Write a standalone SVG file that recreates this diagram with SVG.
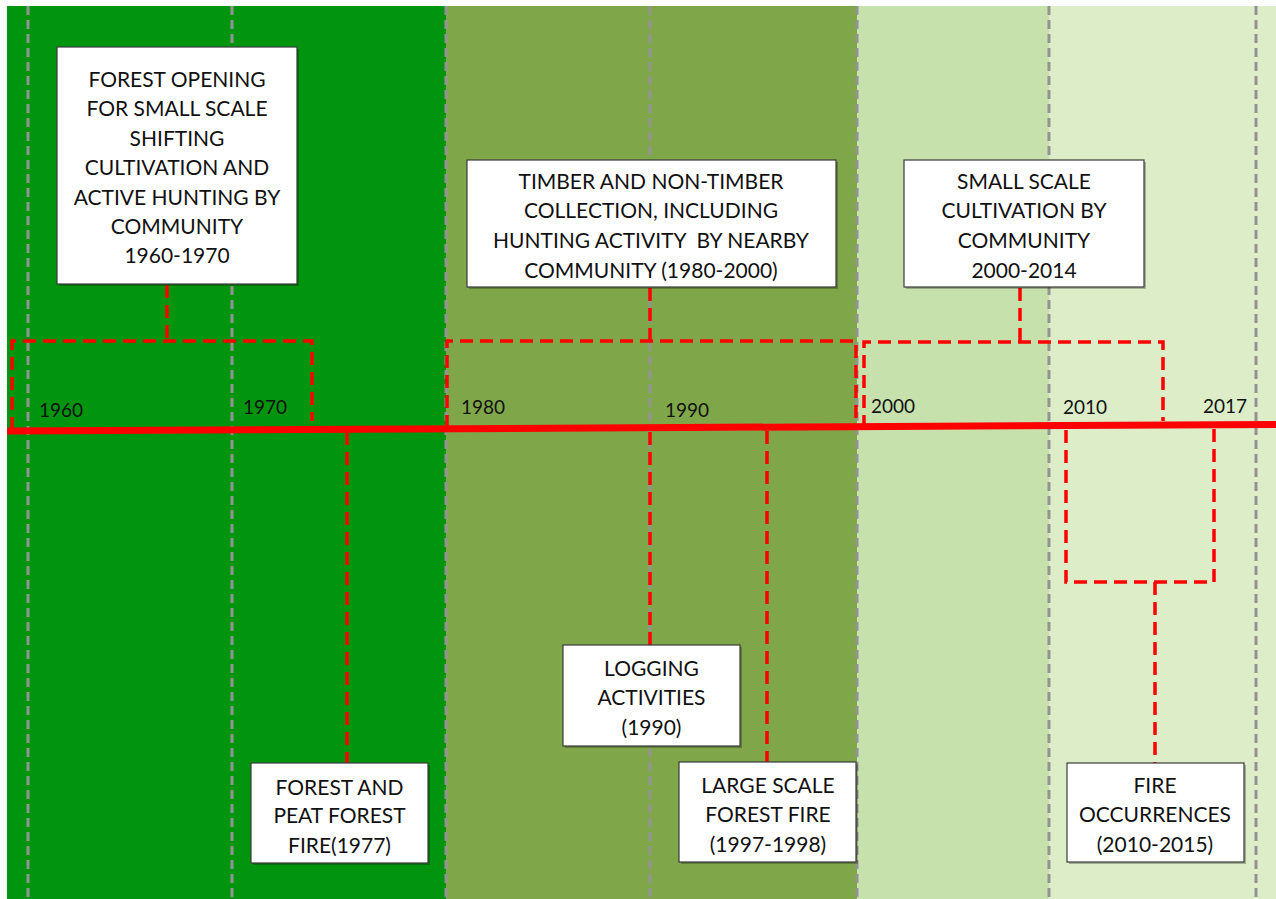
<svg xmlns="http://www.w3.org/2000/svg" width="1276" height="899" viewBox="0 0 1276 899">
<defs>
<style>
.grid{stroke:#939393;stroke-width:3;stroke-dasharray:9 5;fill:none}
.rd{stroke:#ff0000;stroke-width:3.5;stroke-dasharray:13 7;fill:none}
.box{fill:#ffffff;stroke:#3a3a3a;stroke-width:1.2}
.shadow{fill:#000000;opacity:0.25}
.t{font-family:Lato,"Liberation Sans",sans-serif;font-size:21px;fill:#111;text-anchor:middle}
.yr{font-family:Lato,"Liberation Sans",sans-serif;font-size:19px;fill:#111}
</style>
</defs>
<rect x="0" y="0" width="1276" height="899" fill="#ffffff"/>
<g id="bands">
<rect x="7" y="6" width="439" height="893" fill="#00940f"/>
<rect x="446" y="6" width="411" height="893" fill="#7fa74a"/>
<rect x="857" y="6" width="192" height="893" fill="#c7e1ad"/>
<rect x="1049" y="6" width="227" height="893" fill="#dcedc8"/>
</g>
<g id="gridlines">
<line class="grid" x1="28" y1="6" x2="28" y2="899"/>
<line class="grid" x1="232" y1="6" x2="232" y2="899"/>
<line class="grid" x1="446" y1="6" x2="446" y2="899"/>
<line class="grid" x1="650" y1="6" x2="650" y2="899"/>
<line class="grid" x1="857" y1="6" x2="857" y2="899"/>
<line class="grid" x1="1049" y1="6" x2="1049" y2="899"/>
<line class="grid" x1="1256" y1="6" x2="1256" y2="899"/>
</g>
<g id="connectors">
<polyline class="rd" points="12,430 12,341 312,341 312,421"/>
<polyline class="rd" points="167,285 167,341"/>
<polyline class="rd" points="447,428 447,341 856,341 856,426"/>
<polyline class="rd" points="650,288 650,341"/>
<polyline class="rd" points="864,428 864,342 1163,342 1163,421"/>
<polyline class="rd" points="1020,288 1020,342"/>
<polyline class="rd" points="347,432 347,763"/>
<polyline class="rd" points="650,432 650,645"/>
<polyline class="rd" points="767,431 767,762"/>
<polyline class="rd" points="1066,430 1066,582 1214,582 1214,428"/>
<polyline class="rd" points="1155,582 1155,763"/>
<line x1="7" y1="431" x2="1276" y2="424.5" stroke="#ff0000" stroke-width="7"/>
</g>
<g id="years">
<text class="yr" x="39" y="417">1960</text>
<text class="yr" x="243" y="414">1970</text>
<text class="yr" x="461" y="414">1980</text>
<text class="yr" x="665" y="417">1990</text>
<text class="yr" x="871" y="413">2000</text>
<text class="yr" x="1063" y="414">2010</text>
<text class="yr" x="1203" y="413">2017</text>
</g>
<g id="node-forest-opening">
<rect class="shadow" x="59" y="49" width="240" height="237"/>
<rect class="box" x="57" y="47" width="240" height="237"/>
<text class="t" x="177" y="87">FOREST OPENING</text>
<text class="t" x="177" y="116">FOR SMALL SCALE</text>
<text class="t" x="177" y="146">SHIFTING</text>
<text class="t" x="177" y="175">CULTIVATION AND</text>
<text class="t" x="177" y="205">ACTIVE HUNTING BY</text>
<text class="t" x="177" y="234">COMMUNITY</text>
<text class="t" x="177" y="263">1960-1970</text>
</g>
<g id="node-timber">
<rect class="shadow" x="469" y="162" width="369" height="127"/>
<rect class="box" x="467" y="160" width="369" height="127"/>
<text class="t" x="651" y="189">TIMBER AND NON-TIMBER</text>
<text class="t" x="651" y="218">COLLECTION, INCLUDING</text>
<text class="t" x="651" y="248" xml:space="preserve">HUNTING ACTIVITY  BY NEARBY</text>
<text class="t" x="651" y="278">COMMUNITY (1980-2000)</text>
</g>
<g id="node-small-scale">
<rect class="shadow" x="906" y="162" width="240" height="127"/>
<rect class="box" x="904" y="160" width="240" height="127"/>
<text class="t" x="1024" y="189">SMALL SCALE</text>
<text class="t" x="1024" y="218">CULTIVATION BY</text>
<text class="t" x="1024" y="248">COMMUNITY</text>
<text class="t" x="1024" y="278">2000-2014</text>
</g>
<g id="node-peat-fire">
<rect class="shadow" x="253" y="765" width="177" height="100"/>
<rect class="box" x="251" y="763" width="177" height="100"/>
<text class="t" x="339.5" y="795">FOREST AND</text>
<text class="t" x="339.5" y="823">PEAT FOREST</text>
<text class="t" x="339.5" y="853">FIRE(1977)</text>
</g>
<g id="node-logging">
<rect class="shadow" x="565" y="647" width="177" height="101"/>
<rect class="box" x="563" y="645" width="177" height="101"/>
<text class="t" x="651.5" y="676">LOGGING</text>
<text class="t" x="651.5" y="705">ACTIVITIES</text>
<text class="t" x="651.5" y="735">(1990)</text>
</g>
<g id="node-large-fire">
<rect class="shadow" x="681" y="764" width="177" height="100"/>
<rect class="box" x="679" y="762" width="177" height="100"/>
<text class="t" x="768" y="793">LARGE SCALE</text>
<text class="t" x="768" y="822">FOREST FIRE</text>
<text class="t" x="768" y="852">(1997-1998)</text>
</g>
<g id="node-fire-occurrences">
<rect class="shadow" x="1069" y="765" width="177" height="99"/>
<rect class="box" x="1067" y="763" width="177" height="99"/>
<text class="t" x="1155" y="793">FIRE</text>
<text class="t" x="1155" y="822">OCCURRENCES</text>
<text class="t" x="1155" y="852">(2010-2015)</text>
</g>
</svg>
